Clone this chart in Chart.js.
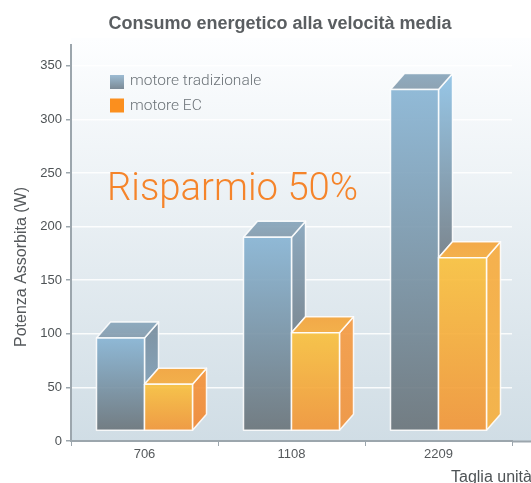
<!DOCTYPE html>
<html><head><meta charset="utf-8">
<script src="https://cdn.jsdelivr.net/npm/chart.js@4/dist/chart.umd.js"></script>
<style>html,body{margin:0;padding:0;background:#fff;overflow:hidden}canvas{display:block}</style>
</head><body><canvas id="c" width="531" height="483"></canvas>
<script>
const categories = ['706', '1108', '2209'];
const traditional = [96, 190, 328];
const ec = [53, 101, 171];
const seriesNames = ['motore tradizionale', 'motore EC'];
const yTicks = [0, 50, 100, 150, 200, 250, 300, 350];
const chartTitle = 'Consumo energetico alla velocità media';
const yTitle = 'Potenza Assorbita (W)';
const xTitle = 'Taglia unità';
const callout = 'Risparmio 50%';
const FONT = '"Liberation Sans", Arial, sans-serif';
const DX = 14, DY = 16;

function grad(ctx, y0, y1, a, b) {
  const g = ctx.createLinearGradient(0, y0, 0, y1);
  g.addColorStop(0, a); g.addColorStop(1, b); return g;
}
const palette = [
  {front:['#86b3d3','#687278'], top:['#84a3b9','#8299ab'],
   side:[['#75899a','#7c9cb3'],['#83a2ba','#72808b'],['#8cc1e5','#707b84']]},
  {front:['#f9c03a','#f29434'], top:['#f4a236','#f5aa3a'],
   side:[['#f59338','#f18630'],['#f59a40','#f1923a'],['#f7aa3c','#f6af3c']]}
];
const bars3d = {
  id:'bars3d',
  afterLayout(chart){
    chart.titleBlock.left += 48;
  },
  beforeDraw(chart){
    const {ctx, chartArea:a} = chart;
    ctx.save();
    ctx.fillStyle = grad(ctx, 38, a.bottom, '#fdfeff', '#d0dde5');
    ctx.fillRect(a.left, 38, 531-a.left, a.bottom-38);
    ctx.restore();
  },
  afterDatasetsDraw(chart){
    const {ctx} = chart;
    ctx.save();
    ctx.lineWidth = 1.5; ctx.strokeStyle = 'rgba(255,255,255,0.88)'; ctx.lineJoin='round';
    const A = 0.9;
    chart.data.datasets.forEach((ds,di)=>{
      const p = palette[di];
      chart.getDatasetMeta(di).data.forEach((bar,i)=>{
        const l = bar.x-bar.width/2, r = bar.x+bar.width/2, t = bar.y, b = bar.base;
        const sb = di===0 ? chart.getDatasetMeta(1).data[i].y : b;
        ctx.globalAlpha = A;
        ctx.beginPath(); ctx.moveTo(r,t); ctx.lineTo(r+DX,t-DY); ctx.lineTo(r+DX,sb-DY); ctx.lineTo(r,sb); ctx.closePath();
        ctx.fillStyle = grad(ctx,t-DY,sb,p.side[i][0],p.side[i][1]); ctx.fill();
        ctx.globalAlpha = 1; ctx.stroke();
        ctx.globalAlpha = A;
        ctx.beginPath(); ctx.moveTo(l,t); ctx.lineTo(l+DX,t-DY); ctx.lineTo(r+DX,t-DY); ctx.lineTo(r,t); ctx.closePath();
        ctx.fillStyle = grad(ctx,t-DY,t,p.top[0],p.top[1]); ctx.fill();
        ctx.globalAlpha = 1; ctx.stroke();
        ctx.globalAlpha = A;
        ctx.fillStyle = grad(ctx,t,b,p.front[0],p.front[1]);
        ctx.fillRect(l,t,r-l,b-t);
        ctx.globalAlpha = 1;
        ctx.strokeRect(l,t,r-l,b-t);
      });
    });
    ctx.restore();
  },
  afterDraw(chart){
    const {ctx, chartArea:a} = chart;
    ctx.save();
    ctx.fillStyle = '#9ca6ad';
    ctx.fillRect(a.right, a.bottom-0.5, 531-a.right, 2);
    ctx.textBaseline='alphabetic'; ctx.textAlign='left';
    ctx.font = '300 15.5px Roboto, '+FONT;
    seriesNames.forEach((n,i)=>{
      const y = 75+i*23.5, x = 110;
      ctx.fillStyle = i===0 ? grad(ctx,y,y+14,'#9dbcd3','#7b8a96') : '#fb8f1e';
      ctx.fillRect(x,y,14,14);
      ctx.fillStyle = '#6c7378';
      ctx.fillText(n,130,85+i*25);
    });
    ctx.font = '300 38.3px Roboto, '+FONT; ctx.fillStyle = '#f5842a';
    ctx.fillText(callout,107,200);
    ctx.font = '16px '+FONT; ctx.fillStyle = '#4e5356';
    ctx.fillText(xTitle,451,482);
    ctx.translate(26,267); ctx.rotate(-Math.PI/2); ctx.textAlign='center';
    ctx.font = '16px '+FONT; ctx.fillStyle = '#55595c';
    ctx.fillText(yTitle,0,0);
    ctx.restore();
  }
};
new Chart(document.getElementById('c'),{
  type:'bar',
  data:{labels:categories,datasets:[
    {label:seriesNames[0],data:traditional,base:10,backgroundColor:'rgba(0,0,0,0)',borderWidth:0},
    {label:seriesNames[1],data:ec,base:10,backgroundColor:'rgba(0,0,0,0)',borderWidth:0}
  ]},
  plugins:[bars3d],
  options:{
    responsive:false,animation:false,devicePixelRatio:1,
    layout:{padding:{top:0,right:19,left:0,bottom:0}},
    datasets:{bar:{categoryPercentage:0.653,barPercentage:1}},
    plugins:{
      legend:{display:false},tooltip:{enabled:false},
      title:{display:true,text:chartTitle,color:'#5a5e61',font:{family:FONT,size:18,weight:'bold',lineHeight:1.2},padding:{top:13.4,bottom:10}}
    },
    scales:{
      x:{
        grid:{display:true,drawOnChartArea:false,drawTicks:true,tickLength:5,color:'#9ca6ad',offset:true},
        border:{color:'#9ca6ad',width:2},
        ticks:{color:'#55595c',font:{family:FONT,size:13},padding:1},
        afterFit(s){s.height=42;}
      },
      y:{
        min:0,max:369.4,
        afterBuildTicks(s){s.ticks=yTicks.map(v=>({value:v}));},
        grid:{color:'rgba(255,255,255,0.85)',lineWidth:1.5,tickColor:'#9ca6ad',tickLength:5},
        border:{color:'#9ca6ad',width:2},
        ticks:{color:'#4e5356',font:{family:FONT,size:13},padding:4},
        afterFit(s){s.width=71;}
      }
    }
  }
});
</script></body></html>
